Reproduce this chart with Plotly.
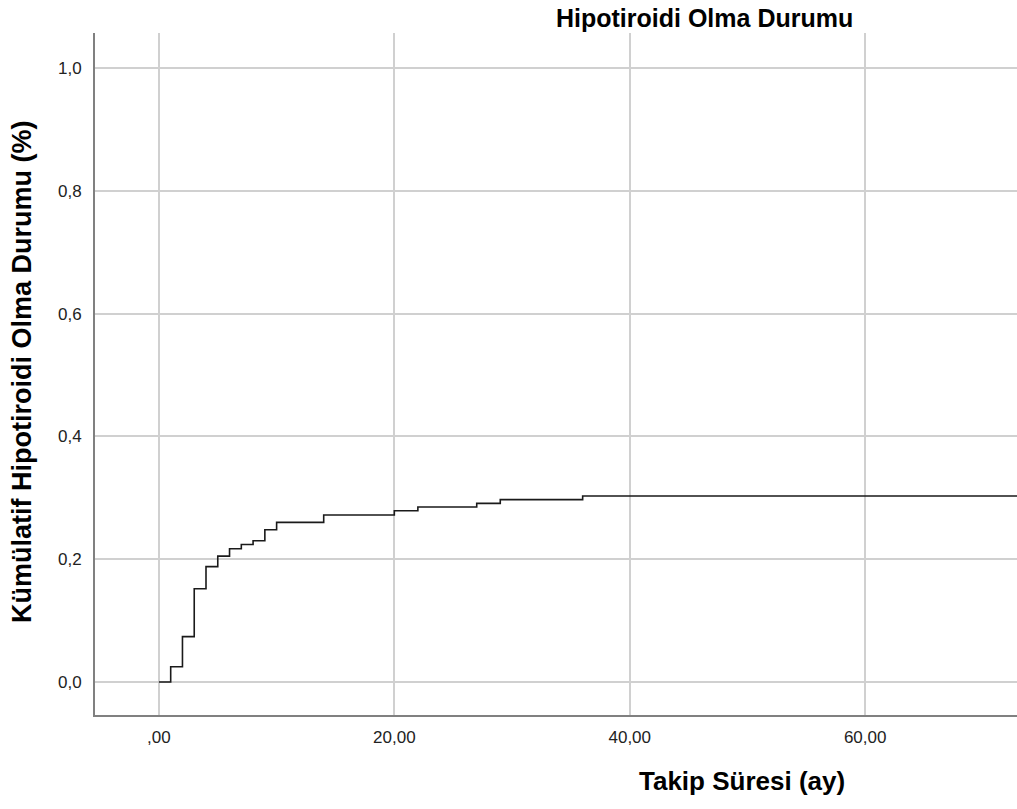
import plotly.graph_objects as go

# Step-function data (cumulative incidence)
time_months = [0, 1, 2, 3, 4, 5, 6, 7, 8, 9, 10, 14, 20, 22, 27, 29, 36, 75]
cum_incidence = [0.0, 0.025, 0.074, 0.152, 0.188, 0.205, 0.217, 0.224, 0.230,
                 0.248, 0.260, 0.272, 0.279, 0.285, 0.291, 0.297, 0.303, 0.303]

x_tickvals = [0, 20, 40, 60]
x_ticktext = [",00", "20,00", "40,00", "60,00"]
y_tickvals = [0, 0.2, 0.4, 0.6, 0.8, 1.0]
y_ticktext = ["0,0", "0,2", "0,4", "0,6", "0,8", "1,0"]

FONT = "Arial, 'Liberation Sans', sans-serif"

fig = go.Figure()
fig.add_trace(go.Scatter(
    x=time_months, y=cum_incidence, mode="lines",
    line=dict(shape="hv", color="#1a1a1a", width=1.6),
    showlegend=False, hoverinfo="skip",
))

fig.update_layout(
    width=1017, height=809,
    margin=dict(l=95, r=0, t=33, b=94),
    paper_bgcolor="white", plot_bgcolor="white",
    font=dict(family=FONT, color="#222"),
    xaxis=dict(
        range=[-5.43, 72.9], tickvals=x_tickvals, ticktext=x_ticktext,
        showgrid=True, gridcolor="#d0d0d0", gridwidth=2,
        zeroline=False, showline=True, linecolor="#808080", linewidth=2,
        ticks="outside", ticklen=6, tickcolor="rgba(0,0,0,0)",
        tickfont=dict(size=17, color="#222", family=FONT),
    ),
    yaxis=dict(
        range=[-0.0537, 1.057], tickvals=y_tickvals, ticktext=y_ticktext,
        showgrid=True, gridcolor="#d0d0d0", gridwidth=2,
        zeroline=False, showline=True, linecolor="#808080", linewidth=2,
        ticks="outside", ticklen=8, tickcolor="rgba(0,0,0,0)",
        tickfont=dict(size=17, color="#222", family=FONT),
    ),
    annotations=[
        dict(text="<b>Hipotiroidi Olma Durumu</b>", xref="paper", yref="paper",
             x=(704 - 95) / 922, y=1 + (33 - 18) / 682, xanchor="center", yanchor="middle",
             showarrow=False, font=dict(size=25, color="#000", family=FONT)),
        dict(text="<b>Takip Süresi (ay)</b>", xref="paper", yref="paper",
             x=(742 - 95) / 922, y=-(781 - 715) / 682, xanchor="center", yanchor="middle",
             showarrow=False, font=dict(size=26, color="#000", family=FONT)),
        dict(text="<b>Kümülatif Hipotiroidi Olma Durumu (%)</b>", xref="paper", yref="paper",
             x=-(95 - 22) / 922, y=(715 - 372) / 682, xanchor="center", yanchor="middle",
             textangle=-90, showarrow=False, font=dict(size=27, color="#000", family=FONT)),
    ],
)

fig.write_html("out.html")
